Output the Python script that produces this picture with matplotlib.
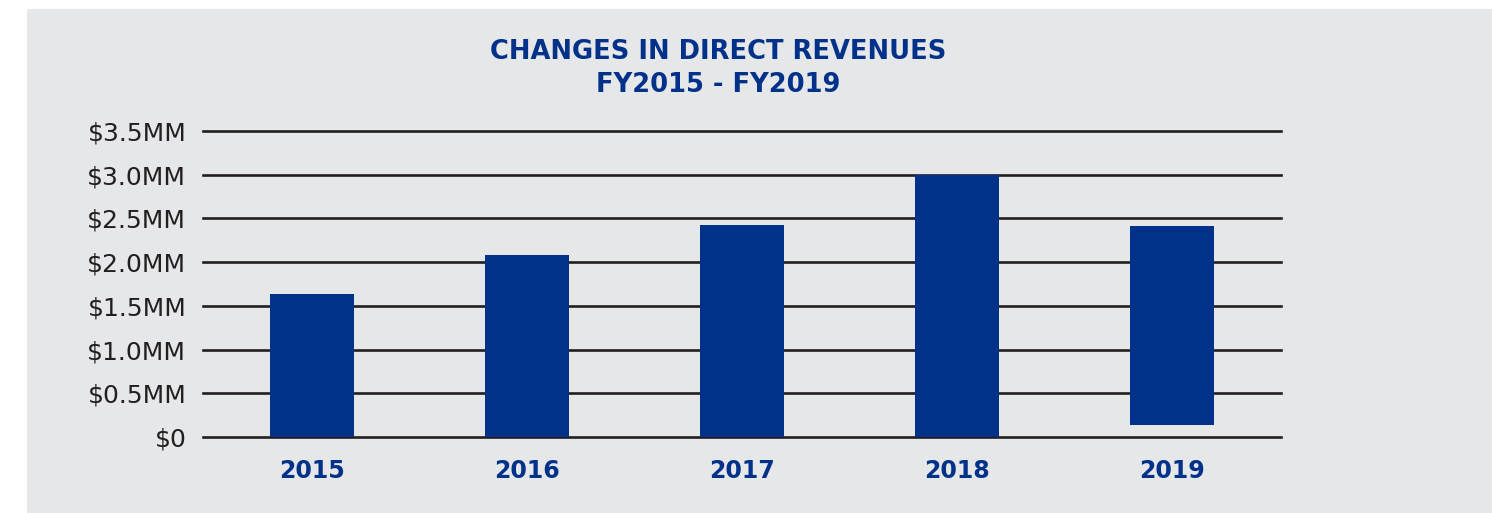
import numpy as np
import matplotlib.pyplot as plt

# revenue in $MM, bar bottom/top
years = ['2015', '2016', '2017', '2018', '2019']
bottoms = [0.0, 0.0, 0.0, 0.0, 0.14]
tops = [1.63, 2.08, 2.43, 3.0, 2.41]
ytick_vals = [0, 0.5, 1.0, 1.5, 2.0, 2.5, 3.0, 3.5]
ytick_labels = ['$0', '$0.5MM', '$1.0MM', '$1.5MM', '$2.0MM', '$2.5MM', '$3.0MM', '$3.5MM']

navy = '#02318a'
bg = '#e6e7e9'
dark = '#231f20'

W, H = 1492, 513
fig = plt.figure(figsize=(W / 100, H / 100), dpi=100)
fig.patch.set_facecolor('white')

# grey panel (white strip top and left)
bgax = fig.add_axes([27 / W, 0, 1 - 27 / W, 1 - 9 / H], zorder=-10)
bgax.set_facecolor(bg)
bgax.set_xticks([])
bgax.set_yticks([])
for s in bgax.spines.values():
    s.set_visible(False)

ax = fig.add_axes([203 / W, (H - 437) / H, (1281 - 203) / W, (437 - 131) / H], zorder=1)
ax.set_facecolor('none')

x = np.arange(len(years))
heights = np.array(tops) - np.array(bottoms)
ax.bar(x, heights, bottom=bottoms, width=0.39, color=navy, zorder=3)

ax.set_xlim(-0.507, 4.507)
ax.set_ylim(0, 3.5)
ax.set_yticks(ytick_vals)
ax.set_yticklabels(ytick_labels, va='center_baseline')
for v in ytick_vals:
    ax.axhline(v, color=dark, lw=1.9, zorder=1, clip_on=False)

for s in ax.spines.values():
    s.set_visible(False)
ax.tick_params(axis='both', length=0)
ax.tick_params(axis='y', pad=12, labelsize=18, labelcolor=dark)
ax.tick_params(axis='x', pad=16)
ax.set_xticks(x)
ax.set_xticklabels(years, fontsize=17, fontweight='bold', color=navy)

fig.text(718 / W, 1 - 52 / H, 'CHANGES IN DIRECT REVENUES', ha='center', va='center',
         fontsize=18.5, fontweight='bold', color=navy)
fig.text(718 / W, 1 - 85 / H, 'FY2015 - FY2019', ha='center', va='center',
         fontsize=18.5, fontweight='bold', color=navy)

fig.savefig('out.png', dpi=100, facecolor=fig.get_facecolor())
